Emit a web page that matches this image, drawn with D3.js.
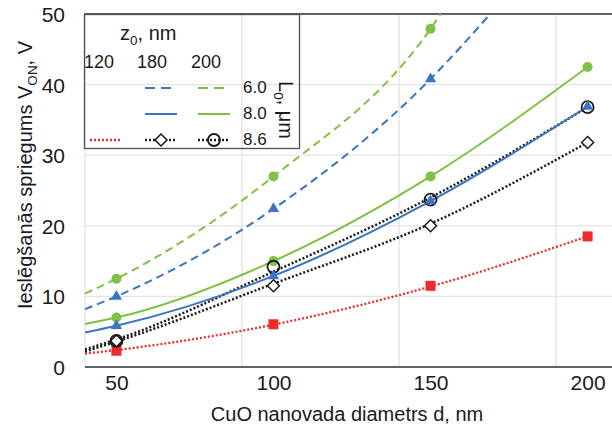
<!DOCTYPE html>
<html>
 <head>
  <meta charset="utf-8" />
  <title>Ieslēgšanās spriegums</title>
  <script src="https://cdn.jsdelivr.net/npm/d3@7"></script>
  <style>
    body { margin: 0; background: #fff; }
    text { font-family: "Liberation Sans", Arial, sans-serif; fill: #1a1a1a; }
  </style>
 </head>

 <body>
  <script>
    // measured points (d, nm)
    var dPoints = [50, 100, 150, 200];
    var xTicks = [50, 100, 150, 200],
        xGrid  = [40, 90, 140, 190],
        yTicks = [0, 10, 20, 30, 40, 50];

    // markers
    var g60_200 = [12.5, 27.0, 47.9],
        b60_180 = [10.0, 22.4, 40.8],
        g80_200 = [7.0, 15.0, 27.0, 42.5],
        b80_180 = [5.85, 12.9, 23.5, 36.9],
        k86_200 = [3.7, 14.2, 23.7, 36.8],
        k86_180 = [3.7, 11.5, 20.0, 31.8],
        r86_120 = [2.3, 6.05, 11.5, 18.5];

    // trend curves
    var fitG60x = [40, 50, 100, 150, 154],  fitG60 = [10.4, 12.5, 27.0, 47.9, 50.5],
        fitB60x = [40, 50, 100, 150, 170],  fitB60 = [8.2, 10.0, 22.4, 40.8, 50.5],
        fitG80x = [40, 50, 100, 150, 200],  fitG80 = [6.1, 7.0, 15.0, 27.0, 42.5],
        fitB80x = [40, 50, 100, 150, 200],  fitB80 = [4.9, 5.85, 12.9, 23.5, 36.9],
        fitK2x  = [40, 50, 100, 150, 200],  fitK2  = [2.5, 3.9, 13.5, 24.0, 36.8],
        fitK1x  = [40, 50, 100, 150, 200],  fitK1  = [2.2, 3.6, 11.8, 20.3, 31.8],
        fitR1x  = [40, 50, 100, 150, 200],  fitR1  = [1.9, 2.4, 6.0, 11.4, 18.5];

    var zHeads = ["120", "180", "200"],
        lHeads = ["6.0", "8.0", "8.6"];

    var blue = "#3b74c3", green = "#7fc144", red = "#ee2b2b", black = "#1a1a1a";
    var dashed = "8,5", dotted = "2,2";

    var W = 612, H = 428;
    var x = d3.scaleLinear().domain([40, 210]).range([85, 619]),
        y = d3.scaleLinear().domain([0, 50]).range([367, 14]);

    var svg = d3.select("body").append("svg")
        .attr("width", W).attr("height", H);

    svg.append("defs").append("clipPath").attr("id", "plot")
      .append("rect").attr("x", 85).attr("y", 14).attr("width", W - 85).attr("height", 353);

    // grid
    svg.append("g").selectAll("line").data(yTicks.slice(1, 5)).enter().append("line")
        .attr("x1", 85).attr("x2", W).attr("y1", y).attr("y2", y)
        .attr("stroke", "#e3e3e3").attr("stroke-width", 1.3);
    svg.append("g").selectAll("line").data(xGrid).enter().append("line")
        .attr("x1", x).attr("x2", x).attr("y1", 14).attr("y2", 367)
        .attr("stroke", "#e3e3e3").attr("stroke-width", 1.3);

    // axes
    var yAxis = d3.axisLeft(y).tickValues(yTicks).tickSize(0).tickPadding(20);
    svg.append("g").attr("transform", "translate(85,0)").call(yAxis)
      .call(function(g) { g.select(".domain").remove(); })
      .selectAll("text").style("font-size", "21px").attr("dy", "0.36em")
      .attr("font-family", "Liberation Sans, Arial, sans-serif").attr("fill", "#1a1a1a");

    var xAxis = d3.axisBottom(x).tickValues(xTicks).tickSize(0).tickPadding(8);
    svg.append("g").attr("transform", "translate(0,367)").call(xAxis)
      .call(function(g) { g.select(".domain").remove(); })
      .selectAll("text").style("font-size", "21px").attr("dy", "0.71em")
      .attr("font-family", "Liberation Sans, Arial, sans-serif").attr("fill", "#1a1a1a");

    svg.append("line").attr("x1", 85).attr("x2", W).attr("y1", 367).attr("y2", 367)
        .attr("stroke", "#2a2f3a").attr("stroke-width", 1.5);
    svg.append("line").attr("x1", 84).attr("x2", W).attr("y1", 14).attr("y2", 14)
        .attr("stroke", "#2a2f3a").attr("stroke-width", 1.5);

    // titles
    svg.append("text").attr("x", 347).attr("y", 421).attr("text-anchor", "middle")
        .style("font-size", "20px").text("CuO nanovada diametrs d, nm");

    var yt = svg.append("text").attr("transform", "translate(32,175) rotate(-90)")
        .attr("text-anchor", "middle").style("font-size", "20px");
    yt.append("tspan").text("Ieslēgšanās spriegums V");
    yt.append("tspan").attr("dy", 5).style("font-size", "13.5px").text("ON");
    yt.append("tspan").attr("dy", -5).text(", V");

    // curves
    var series = [
      {fx: fitG60x, fy: fitG60, py: g60_200, color: green, dash: dashed, w: 2, m: "dot"},
      {fx: fitB60x, fy: fitB60, py: b60_180, color: blue,  dash: dashed, w: 2, m: "tri"},
      {fx: fitG80x, fy: fitG80, py: g80_200, color: green, dash: null,   w: 2, m: "dot"},
      {fx: fitR1x,  fy: fitR1,  py: r86_120, color: red,   dash: dotted, w: 2.3, m: "sq"},
      {fx: fitK1x,  fy: fitK1,  py: k86_180, color: black, dash: dotted, w: 2.5, m: "dia"},
      {fx: fitK2x,  fy: fitK2,  py: k86_200, color: black, dash: dotted, w: 2.5, m: "ring"},
      {fx: fitB80x, fy: fitB80, py: b80_180, color: blue,  dash: null,   w: 2, m: "tri"}
    ];

    var line = d3.line().curve(d3.curveMonotoneX)
        .x(function(d) { return x(d[0]); }).y(function(d) { return y(d[1]); });

    var plot = svg.append("g").attr("clip-path", "url(#plot)");

    function marker(g, kind, color, cx, cy) {
      if (kind === "dot") {
        g.append("circle").attr("cx", cx).attr("cy", cy).attr("r", 5).attr("fill", color);
      } else if (kind === "tri") {
        g.append("path").attr("d", d3.symbol(d3.symbolTriangle, 55)())
          .attr("transform", "translate(" + cx + "," + cy + ")").attr("fill", color);
      } else if (kind === "sq") {
        g.append("rect").attr("x", cx - 5).attr("y", cy - 5).attr("width", 10).attr("height", 10)
          .attr("fill", color);
      } else if (kind === "dia") {
        g.append("path").attr("d", "M0,-6L6,0L0,6L-6,0Z")
          .attr("transform", "translate(" + cx + "," + cy + ")")
          .attr("fill", "#fff").attr("stroke", color).attr("stroke-width", 1.5);
      } else if (kind === "ring") {
        g.append("circle").attr("cx", cx).attr("cy", cy).attr("r", 6)
          .attr("fill", "none").attr("stroke", color).attr("stroke-width", 1.8);
      }
    }

    series.forEach(function(s) {
      plot.append("path")
        .datum(s.fx.map(function(v, i) { return [v, s.fy[i]]; }))
        .attr("d", line).attr("fill", "none")
        .attr("stroke", s.color).attr("stroke-width", s.w)
        .attr("stroke-dasharray", s.dash);
    });
    series.forEach(function(s) {
      s.py.forEach(function(v, i) { marker(plot, s.m, s.color, x(dPoints[i]), y(v)); });
    });

    // legend
    var lg = svg.append("g");
    lg.append("rect").attr("x", 84.5).attr("y", 14.5).attr("width", 215).attr("height", 134)
      .attr("fill", "none").attr("stroke", "#4a4e58").attr("stroke-width", 1.3);

    var zt = lg.append("text").attr("x", 120).attr("y", 40).style("font-size", "20px");
    zt.append("tspan").text("z");
    zt.append("tspan").attr("dy", 5).style("font-size", "13.5px").text("0");
    zt.append("tspan").attr("dy", -5).text(", nm");

    var headX = [99, 152, 206], colX = [106, 161, 214], rowY = [88, 114, 140];
    lg.selectAll(".zh").data(zHeads).enter().append("text")
      .attr("x", function(d, i) { return headX[i]; }).attr("y", 68)
      .attr("text-anchor", "middle").style("font-size", "18px").text(function(d) { return d; });
    lg.selectAll(".lh").data(lHeads).enter().append("text")
      .attr("x", 243).attr("y", function(d, i) { return rowY[i] + 5; })
      .style("font-size", "17px").text(function(d) { return d; });

    var lt = lg.append("text").attr("transform", "translate(279,81) rotate(90)")
      .style("font-size", "20px");
    lt.append("tspan").text("L");
    lt.append("tspan").attr("dy", 5).style("font-size", "13.5px").text("0");
    lt.append("tspan").attr("dy", -5).text(", μm");

    var samples = [
      {c: 1, r: 0, s: series[1]}, {c: 2, r: 0, s: series[0]},
      {c: 1, r: 1, s: series[6]}, {c: 2, r: 1, s: series[2]},
      {c: 0, r: 2, s: series[3]}, {c: 1, r: 2, s: series[4]}, {c: 2, r: 2, s: series[5]}
    ];
    samples.forEach(function(d) {
      var cx = colX[d.c], cy = rowY[d.r];
      lg.append("line").attr("x1", cx - 16).attr("x2", cx + 16).attr("y1", cy).attr("y2", cy)
        .attr("stroke", d.s.color).attr("stroke-width", d.s.w)
        .attr("stroke-dasharray", d.s.dash === dashed ? "10,6" : d.s.dash);
      if (d.s.m === "dia" || d.s.m === "ring") marker(lg, d.s.m, d.s.color, cx, cy);
    });
  </script>
 </body>
</html>
